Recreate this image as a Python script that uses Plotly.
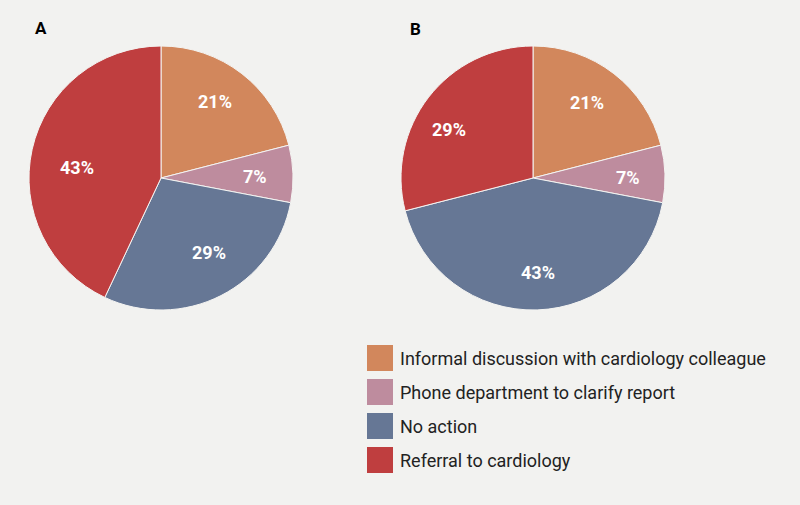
import plotly.graph_objects as go

# categories and shares (%) per panel
categories = ["Informal discussion with cardiology colleague",
              "Phone department to clarify report",
              "No action",
              "Referral to cardiology"]
share_a = [21, 7, 29, 43]
share_b = [21, 7, 43, 29]
colors = ["#D2875C", "#BE8C9E", "#667795", "#BF3E3F"]

W, H = 800, 505
bg = "#F2F2F0"

# where the percent labels sit (pixels), same order as categories
label_pos_a = [(215, 102), (255, 176), (209, 252), (77, 167)]
label_pos_b = [(587, 103), (628, 177), (538, 272), (449, 129)]

fig = go.Figure()

def add_pie(vals, x0, x1, y0, y1, label_pos):
    fig.add_trace(go.Pie(
        labels=categories, values=vals, sort=False, direction="clockwise",
        rotation=0, marker=dict(colors=colors, line=dict(color="#F4F4F2", width=1)),
        textinfo="none",
        domain=dict(x=[x0 / W, x1 / W], y=[1 - y1 / H, 1 - y0 / H]),
        showlegend=False, hoverinfo="label+percent"))
    tot = sum(vals)
    for v, (px, py) in zip(vals, label_pos):
        fig.add_annotation(x=px / W, y=1 - py / H, xref="paper", yref="paper",
                           text="<b>%d%%</b>" % round(v / tot * 100), showarrow=False,
                           xanchor="center", yanchor="middle",
                           font=dict(family="Roboto", size=18, color="white"))

#pie A and pie B
add_pie(share_a, 29, 293, 46, 310, label_pos_a)
add_pie(share_b, 401, 665, 46, 310, label_pos_b)

# panel letters
fig.add_annotation(x=41 / W, y=1 - 28 / H, xref="paper", yref="paper", text="<b>A</b>",
                   showarrow=False, xanchor="center", yanchor="middle",
                   font=dict(family="Roboto", size=17, color="black"))
fig.add_annotation(x=415 / W, y=1 - 29 / H, xref="paper", yref="paper", text="<b>B</b>",
                   showarrow=False, xanchor="center", yanchor="middle",
                   font=dict(family="Roboto", size=17, color="black"))

# legend drawn as swatches + labels
row_y = [358, 392, 426, 460]
for cat, col, yc in zip(categories, colors, row_y):
    fig.add_shape(type="rect", xref="paper", yref="paper",
                  x0=367 / W, x1=393 / W, y0=1 - (yc + 13) / H, y1=1 - (yc - 13) / H,
                  fillcolor=col, line=dict(width=0))
    fig.add_annotation(x=398 / W, y=1 - yc / H, xref="paper", yref="paper", text=cat,
                       showarrow=False, xanchor="left", yanchor="middle",
                       font=dict(family="Roboto", size=18, color="#222222"))

fig.update_layout(width=W, height=H, paper_bgcolor=bg, plot_bgcolor=bg,
                  margin=dict(l=0, r=0, t=0, b=0))

fig.write_html("out.html", config={"displayModeBar": False},
               post_script="document.body.style.margin='0';")
